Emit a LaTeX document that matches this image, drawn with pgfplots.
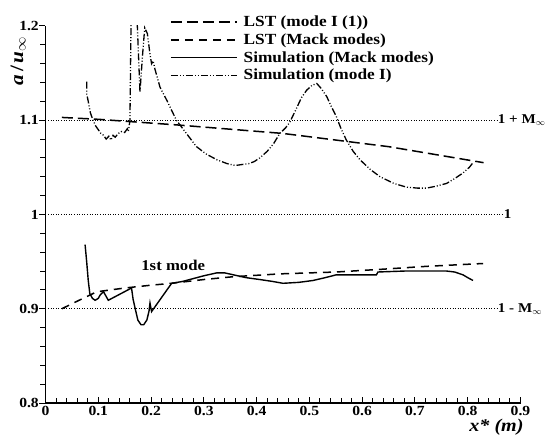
\documentclass[border=0pt]{standalone}
\usepackage{fontspec}
\setmainfont{Liberation Serif}[FakeStretch=1.12]
\usepackage{pgfplots}
\pgfplotsset{compat=1.18}
\begin{document}
\begin{tikzpicture}
\begin{axis}[
  at={(0,0)}, anchor=south west,
  scale only axis, width=475bp, height=377bp,
  xmin=0, xmax=0.9, ymin=0.8, ymax=1.2,
  axis x line*=bottom, axis y line*=left,
  axis line style={-, line width=1.6bp},
  xtick={0,0.1,...,0.9}, ytick={0.8,0.9,1,1.1,1.2},
  minor tick num=4,
  xtick align=inside, ytick align=outside,
  major tick length=6bp, minor tick length=5bp,
  every tick/.style={black, line width=1bp},
  /pgf/number format/assume math mode=true,
  ticklabel style={font=\fontsize{14}{16}\selectfont\bfseries},
  yticklabel style={inner xsep=0.5bp},
  xticklabel style={inner ysep=2bp, yshift=-1bp},
  clip mode=individual,
  legend style={at={(0.262,1.032)}, anchor=north west, draw=none, fill=none,
    font=\fontsize{15.5}{18}\selectfont\bfseries, row sep=1.5bp, inner sep=0pt,
    /tikz/every odd column/.append style={column sep=4bp}},
  legend cell align=left,
  legend image code/.code={\draw[#1, line width=1.5bp] (0bp,0bp) -- (66bp,0bp);},
]
\addplot[black, line width=1.5bp, dash pattern=on 11bp off 5bp] coordinates {
(0.031,1.103) (0.100,1.101) (0.250,1.095) (0.450,1.086) (0.650,1.072) (0.830,1.055)};
\addlegendentry{LST (mode I (1))}
\addplot[black, line width=1.5bp, dash pattern=on 8bp off 6bp] coordinates {
(0.031,0.900) (0.060,0.908) (0.097,0.918) (0.150,0.922) (0.200,0.925) (0.239,0.927)
(0.300,0.931) (0.356,0.934) (0.444,0.937) (0.551,0.939) (0.640,0.942) (0.722,0.945) (0.829,0.948)};
\addlegendentry{LST (Mack modes)}
\addplot[black, line width=1.4bp] coordinates {
(0.075,0.968) (0.078,0.950) (0.081,0.930) (0.084,0.916) (0.089,0.911) (0.094,0.909)
(0.100,0.911) (0.104,0.915) (0.110,0.918) (0.114,0.914) (0.119,0.909) (0.163,0.922)
(0.166,0.910) (0.170,0.900) (0.175,0.888) (0.181,0.883) (0.186,0.883) (0.192,0.888)
(0.196,0.897) (0.198,0.906) (0.201,0.897) (0.239,0.927) (0.260,0.929) (0.280,0.932)
(0.300,0.935) (0.324,0.938) (0.340,0.938) (0.356,0.936) (0.380,0.933) (0.406,0.931)
(0.430,0.929) (0.450,0.927) (0.480,0.928) (0.507,0.930) (0.530,0.933) (0.551,0.936)
(0.590,0.936) (0.627,0.936) (0.630,0.939) (0.680,0.940) (0.722,0.940) (0.760,0.940)
(0.775,0.939) (0.791,0.936) (0.800,0.933) (0.810,0.930)};
\addlegendentry{Simulation (Mack modes)}
\addplot[black, line width=1.3bp, dash pattern=on 7bp off 2bp on 1bp off 2bp on 1bp off 2bp] coordinates {
(0.078,1.141) (0.078,1.128) (0.081,1.120) (0.085,1.108) (0.090,1.100) (0.095,1.094)
(0.100,1.090) (0.105,1.086) (0.110,1.084) (0.115,1.080) (0.120,1.083) (0.124,1.079)
(0.128,1.084) (0.132,1.082) (0.138,1.086) (0.144,1.088) (0.150,1.087) (0.155,1.091)
(0.157,1.088) (0.160,1.100) (0.163,1.250) (0.171,1.250) (0.174,1.200) (0.179,1.130)
(0.184,1.170) (0.188,1.198) (0.193,1.192) (0.198,1.170) (0.201,1.160) (0.204,1.163)
(0.207,1.155) (0.217,1.135) (0.230,1.121) (0.248,1.100) (0.267,1.086) (0.286,1.072)
(0.305,1.064) (0.325,1.058) (0.344,1.054) (0.360,1.052) (0.372,1.053) (0.385,1.054)
(0.395,1.056) (0.406,1.060) (0.420,1.067) (0.432,1.075) (0.444,1.086) (0.455,1.092)
(0.463,1.098) (0.475,1.112) (0.485,1.124) (0.495,1.132) (0.505,1.137) (0.514,1.139)
(0.522,1.134) (0.533,1.125) (0.542,1.114) (0.551,1.104) (0.560,1.091) (0.570,1.079)
(0.583,1.067) (0.596,1.058) (0.615,1.048) (0.634,1.040) (0.660,1.033) (0.684,1.029)
(0.705,1.028) (0.722,1.028) (0.740,1.030) (0.760,1.033) (0.775,1.038) (0.791,1.044)
(0.803,1.050) (0.810,1.055)};
\addlegendentry{Simulation (mode I)}
\addplot[black, line width=0.6bp, dotted, forget plot] coordinates {(0,1.1) (0.855,1.1)};
\addplot[black, line width=0.6bp, dotted, forget plot] coordinates {(0,1.0) (0.866,1.0)};
\addplot[black, line width=0.6bp, dotted, forget plot] coordinates {(0,0.9) (0.855,0.9)};
\node[anchor=west, inner sep=1bp, font=\fontsize{13.5}{15}\selectfont\bfseries] at (axis cs:0.855,1.1) {1 + M$_\infty$};
\node[anchor=west, inner sep=1bp, font=\fontsize{13.5}{15}\selectfont\bfseries] at (axis cs:0.866,1.0) {1};
\node[anchor=west, inner sep=1bp, font=\fontsize{13.5}{15}\selectfont\bfseries] at (axis cs:0.855,0.9) {1 - M$_\infty$};
\node[font=\fontsize{15}{18}\selectfont\bfseries] at (axis cs:0.242,0.946) {1st mode};
\end{axis}
\node[rotate=90, anchor=base, inner sep=0pt, font=\fontsize{19}{21}\selectfont\bfseries] at (-22.5bp,342bp) {{\itshape a}\hspace{3bp}/\hspace{3bp}{\itshape u}$_{\infty}$};
\node[font=\fontsize{18}{20}\selectfont\bfseries\itshape] at (451bp,-24bp) {x* (m)};
\pgfresetboundingbox
\path[use as bounding box] (-45.5bp,-40bp) rectangle (501.5bp,403bp);
\end{tikzpicture}
\end{document}
